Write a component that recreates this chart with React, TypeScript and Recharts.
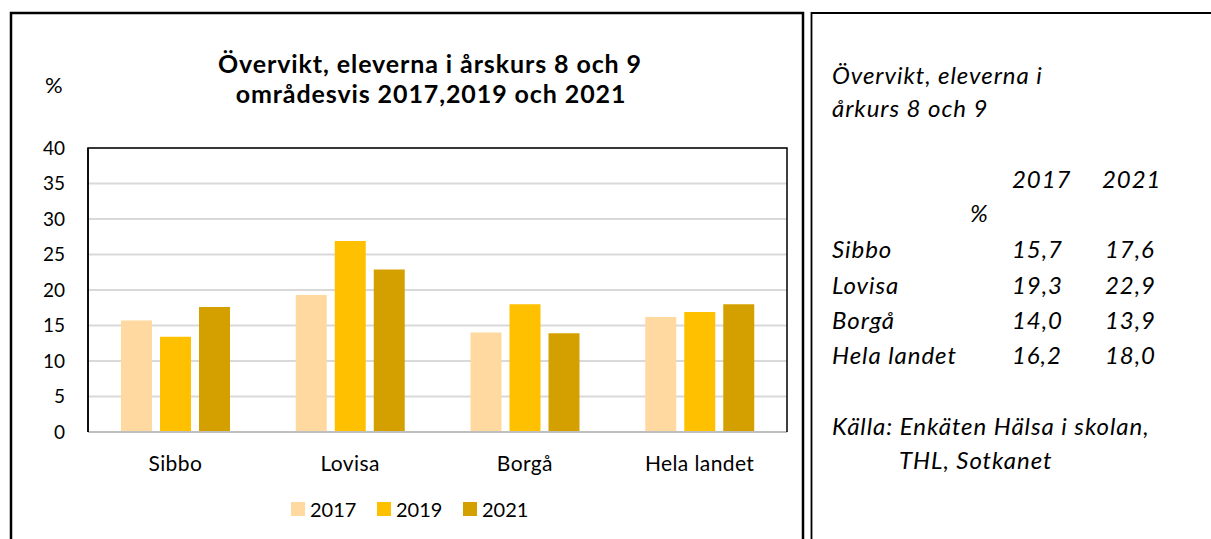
import { BarChart, Bar, XAxis, YAxis, CartesianGrid, Legend } from "recharts";

const FONT = "Lato, 'Open Sans', sans-serif";

const categories = ["Sibbo", "Lovisa", "Borgå", "Hela landet"];
const seriesNames = ["2017", "2019", "2021"];
const values2017 = [15.7, 19.3, 14.0, 16.2];
const values2019 = [13.4, 26.9, 18.0, 16.9];
const values2021 = [17.6, 22.9, 13.9, 18.0];
const yTicks = [0, 5, 10, 15, 20, 25, 30, 35, 40];
const colors = ["#FFD99F", "#FFC000", "#D4A000"];

const data = categories.map((name, i) => ({
  name,
  y2017: values2017[i],
  y2019: values2019[i],
  y2021: values2021[i],
}));

// side table only shows 2017 and 2021
const fmt = (v: number) => v.toFixed(1).replace(".", ",");

const CHART_W = 800;
const CHART_H = 539;
const M = { top: 148, right: 13, bottom: 77, left: 0 };
const Y_AXIS_W = 88;
const X_AXIS_H = 30;

const plotLeft = M.left + Y_AXIS_W;
const plotRight = CHART_W - M.right;
const plotTop = M.top;
const plotBottom = CHART_H - M.bottom - X_AXIS_H;

function renderLegend(props: any) {
  const { payload } = props;
  return (
    <div style={{ display: "flex", fontFamily: FONT, fontSize: 20, color: "#000" }}>
      {payload.map((p: any) => (
        <div key={p.value} style={{ display: "flex", alignItems: "center", width: 86 }}>
          <span style={{ width: 14, height: 14, background: p.color, marginRight: 5, display: "inline-block" }} />
          <span>{p.value}</span>
        </div>
      ))}
    </div>
  );
}

export default function App() {
  const rowY = [258, 293.5, 329, 364];
  return (
    <div style={{ position: "absolute", left: 0, top: 0, width: 1211, height: 539, background: "#fff", overflow: "hidden" }}>
      <div style={{ position: "absolute", left: 0, top: 0 }}>
        <BarChart width={CHART_W} height={CHART_H} data={data} margin={M} barCategoryGap={33} barGap={8}>
          <CartesianGrid vertical={false} stroke="#d9d9d9" strokeWidth={2} />
          <XAxis
            dataKey="name"
            height={X_AXIS_H}
            tickLine={false}
            tickSize={0}
            tickMargin={24}
            axisLine={{ stroke: "#bfbfbf", strokeWidth: 2 }}
            tick={{ fontFamily: FONT, fontSize: 21, fill: "#000", letterSpacing: 0.4 }}
          />
          <YAxis
            width={Y_AXIS_W}
            domain={[0, 40]}
            ticks={yTicks}
            interval={0}
            tickLine={false}
            tickSize={0}
            tickMargin={23}
            axisLine={{ stroke: "#000", strokeWidth: 1.5 }}
            tick={{ fontFamily: FONT, fontSize: 19, fill: "#000" }}
          />
          <Legend
            content={renderLegend}
            layout="horizontal"
            verticalAlign="middle"
            align="center"
            wrapperStyle={{ top: 497, left: 291, width: 300 }}
          />
          <Bar dataKey="y2017" name={seriesNames[0]} fill={colors[0]} isAnimationActive={false} />
          <Bar dataKey="y2019" name={seriesNames[1]} fill={colors[1]} isAnimationActive={false} />
          <Bar dataKey="y2021" name={seriesNames[2]} fill={colors[2]} isAnimationActive={false} />
        </BarChart>
      </div>
      <svg width={1211} height={539} style={{ position: "absolute", left: 0, top: 0, pointerEvents: "none" }}>
        {/* plot frame: dark on top/left/right */}
        <polyline
          points={`${plotLeft},${plotBottom} ${plotLeft},${plotTop} ${plotRight},${plotTop} ${plotRight},${plotBottom}`}
          fill="none"
          stroke="#000"
          strokeWidth={1.5}
        />
        {/* panel frames */}
        <polyline points="11,545 11,13 803,13 803,545" fill="none" stroke="#000" strokeWidth={2.5} />
        <polyline points="811.5,545 811.5,13 1215,13" fill="none" stroke="#000" strokeWidth={1.8} />

        <g fontFamily={FONT} fontWeight="bold" fontSize={25} letterSpacing={0.9} textAnchor="middle" fill="#000">
          <text x={430} y={73}>Övervikt, eleverna i årskurs 8 och 9</text>
          <text x={431} y={103}>områdesvis 2017,2019 och 2021</text>
        </g>
        <text x={45} y={93} fontFamily={FONT} fontSize={22} fill="#000">%</text>

        <g fontFamily={FONT} fontStyle="italic" fontSize={24} letterSpacing={0.95} fill="#000">
          <text x={832} y={84}>Övervikt, eleverna i</text>
          <text x={832} y={117}>årkurs 8 och 9</text>
          <text x={1012} y={188}>{seriesNames[0]}</text>
          <text x={1102} y={188}>{seriesNames[2]}</text>
          <text x={970} y={222}>%</text>
          {categories.map((c, i) => (
            <g key={c}>
              <text x={832} y={rowY[i]}>{c}</text>
              <text x={1012} y={rowY[i]}>{fmt(values2017[i])}</text>
              <text x={1105} y={rowY[i]}>{fmt(values2021[i])}</text>
            </g>
          ))}
          <text x={832} y={435}>Källa: Enkäten Hälsa i skolan,</text>
          <text x={899} y={469}>THL, Sotkanet</text>
        </g>
      </svg>
    </div>
  );
}
